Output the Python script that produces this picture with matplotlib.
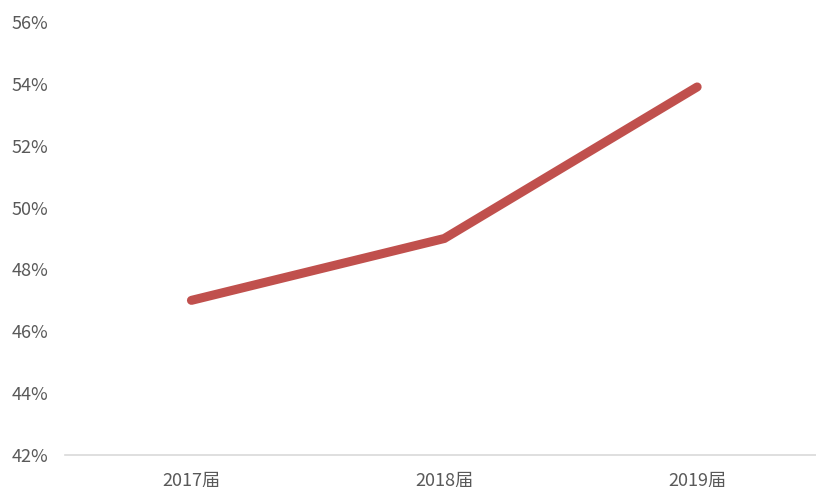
import matplotlib
matplotlib.use("Agg")
import matplotlib.pyplot as plt
from matplotlib.ticker import FuncFormatter

plt.rcParams["font.family"] = ["Noto Sans CJK SC", "DejaVu Sans"]

categories = ["2017届", "2018届", "2019届"]
values = [47.0, 49.0, 53.9]
y_ticks = [42, 44, 46, 48, 50, 52, 54, 56]

fig = plt.figure(figsize=(8.16, 4.92), dpi=100)
ax = fig.add_axes([65 / 816, 37 / 492, 1 - 65 / 816, 433 / 492])

x = list(range(len(categories)))
ax.plot(x, values, color="#C0504D", linewidth=6.5, solid_capstyle="round", solid_joinstyle="miter")

ax.set_xlim(-0.5, 2.47)
ax.set_ylim(42, 56)
ax.set_yticks(y_ticks)
ax.yaxis.set_major_formatter(FuncFormatter(lambda v, _: f"{v:.0f}%"))
ax.set_xticks(x)
ax.set_xticklabels(categories)

for s in ["top", "right", "left"]:
    ax.spines[s].set_visible(False)
ax.spines["bottom"].set_color("#D9D9D9")
ax.spines["bottom"].set_linewidth(1.2)
ax.tick_params(axis="both", length=0, labelsize=13, colors="#595959")
ax.tick_params(axis="y", pad=12)
ax.tick_params(axis="x", pad=12)

fig.savefig("out.png", dpi=100)
